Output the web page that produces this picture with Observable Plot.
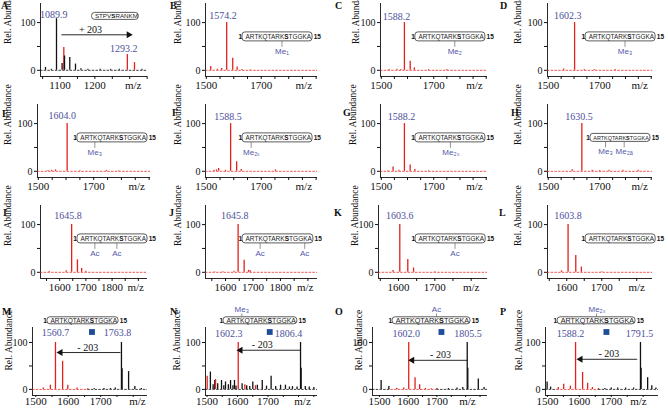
<!DOCTYPE html>
<html><head><meta charset="utf-8">
<script src="https://cdn.jsdelivr.net/npm/d3@7"></script>
<script src="https://cdn.jsdelivr.net/npm/@observablehq/plot@0.6"></script>
<style>
body{margin:0;background:#fff;}
#fig{position:relative;width:668px;height:410px;overflow:hidden;background:#fff;}
.cell{position:absolute;}
.letter{position:absolute;font:bold 10px "Liberation Serif","Times New Roman",serif;line-height:10px;color:#111;}
</style></head><body><div id="fig"></div>
<script>
// ---------- data ----------
const peptideH3 = ["A","R","T","K","Q","T","A","R","K","S","T","G","G","K","A"];
const peptideA  = ["S","T","P","V","S","R","A","N","K","M"];

// [m/z, relative abundance]
const redA   = [[1110.9,48],[1293.2,33],[1313.7,16]];
const blackA = [[1058.3,6],[1075,2],[1089.9,108],[1106,14],[1112.9,30],[1128,27],[1144.4,13],[1160,3],[1180,2],[1215,2],[1245,2],[1270,2],[1335,2]];
const redB = [[1516,8],[1540,2],[1556,4],[1574.2,100],[1596.2,25],[1612.2,7],[1630,1.5],[1660,1]];
const redC = [[1530,1.5],[1560,2],[1575,1.5],[1588.2,100],[1610.2,19],[1626.2,5],[1680,1.5],[1750,1.5]];
const redD = [[1560,2.5],[1602.3,100],[1640,1.5],[1680,1.5],[1760,1.5]];
const redE = [[1535,1.5],[1548,2],[1562,3],[1604.0,100],[1650,1],[1746,2],[1790,1]];
const redF = [[1528,2],[1537,3],[1545,6],[1570,2],[1588.5,100],[1610.5,20],[1627,4],[1752,3]];
const redG = [[1525,1],[1545,9],[1567,2],[1588.2,100],[1610.2,13],[1628,4],[1680,1]];
const redH = [[1593,3],[1630.5,100],[1671,2],[1700,1.5],[1736,2],[1790,2],[1850,2]];
const redI = [[1560,1.5],[1625,3],[1645.8,100],[1667.8,26],[1683.8,8],[1700,2]];
const redJ = [[1560,1],[1590,1],[1631,2],[1645.8,100],[1667.8,25],[1683.8,4],[1690,3]];
const redK = [[1585,4],[1603.6,100],[1625.6,27],[1641.6,9],[1700,1]];
const redL = [[1585,3],[1603.8,100],[1625.8,35],[1641.8,11],[1700,1]];
const redM = [[1523,3],[1545,9],[1560.7,100],[1582.7,60],[1598.7,9],[1627,3],[1660,1.5]];
const blackM = [[1680,1.5],[1710,2],[1730,2],[1745,3],[1763.8,100],[1765.8,44],[1785.8,38],[1805,6],[1825,2]];
const redN = [[1500.5,28],[1528,21],[1602.3,100],[1624,10],[1659,8]];
const blackN = [[1511,37],[1520,10],[1525.5,19],[1535,12],[1547.5,19],[1555,8],[1560.6,16],[1570,10],[1577,19],[1585,8],[1590,19],[1595,7],[1615,12],[1630,8],[1640,6],[1650,16],[1665,9],[1681,19],[1695,7],[1710,28],[1725,6],[1741,9],[1757,9],[1770,5],[1780,6],[1795,5],[1806.4,100],[1808.4,45],[1822,6],[1835,5],[1850,4]];
const redO = [[1560,2],[1585,3],[1602.0,100],[1624,25],[1640,10],[1660,2],[1680,1.5]];
const blackO = [[1506,19],[1533,6],[1560,2],[1700,1.5],[1740,2],[1770,3],[1790,4],[1805.5,100],[1807.5,45],[1844,22],[1864,4]];
const redP = [[1534,4],[1551,11],[1572,7],[1588.2,100],[1610.2,36],[1626,13],[1641,4],[1660,2]];
const blackP = [[1499,16],[1510,5],[1680,2],[1700,3],[1720,3],[1745,3],[1770,3],[1791.5,100],[1793.5,45],[1814,25],[1827,8],[1840,3]];

// labelled masses
const massA=[1089.9,1293.2], massB=[1574.2], massC=[1588.2], massD=[1602.3], massE=[1604.0], massF=[1588.5],
      massG=[1588.2], massH=[1630.5], massI=[1645.8], massJ=[1645.8], massK=[1603.6], massL=[1603.8],
      massM=[1560.7,1763.8], massN=[1602.3,1806.4], massO=[1602.0,1805.5], massP=[1588.2,1791.5];

// modifications: [residue index, label]
const modsB=[[8,"Me₁"]], modsC=[[8,"Me₂"]], modsD=[[8,"Me₃"]], modsE=[[3,"Me₃"]], modsF=[[1,"Me₂ₛ"]],
      modsG=[[7,"Me₂ₛ"]], modsH=[[3,"Me₃"],[8,"Me₂ₐ"]], modsI=[[3,"Ac"],[8,"Ac"]], modsJ=[[3,"Ac"],[13,"Ac"]],
      modsK=[[8,"Ac"]], modsL=[], modsN=[[3,"Me₃"]], modsO=[[8,"Ac"]], modsP=[[7,"Me₂ₛ"]];

// ---------- styling / layout ----------
const RED="#e4211c", INK="#111111", MASS="#4d4f9c", MOD="#5558aa", SQ="#1f4e99";
const SERIF="'Liberation Serif','Times New Roman',serif", SANS="'Liberation Sans',Arial,sans-serif";
const colL=[0,165,330,495], colW=[165,165,165,173];
const rowT=[0,101,202,300], rowH=[101,101,98,110];
const tB = d3.range(1500,1901,50), tIJ = d3.range(1550,1901,50), tKL = d3.range(1550,1801,50), t4 = d3.range(1500,1851,50);
const L3=[1500,1700], L4=[1500,1600,1700];

const panels = [
 {id:"A",col:0,row:0,ml:40,mr:18,lx:7, letter:[1,9],  xd:[1044,1351],ticks:d3.range(1050,1351,50),labeled:[1100,1200],mzAt:1310,
  red:redA,black:blackA,blackTop:true,baseRed:[],baseBlack:[[1044,1351]],mass:massA,massPos:[[1082,117],[1283,45]],
  pep:{seq:peptideA,bold:4,x1:1192,x2:1326,y:113,hpx:7,ends:false},mods:[],
  arrow:{x1:1104,x2:1297,y:74.4,t:"+ 203",tx:1187.5,ty:85}},
 {id:"B",col:1,row:0,ml:40,mr:13,lx:12,letter:[170,9],xd:[1497,1905],ticks:tB,labeled:L3,mzAt:1855,
  red:redB,black:[],baseRed:[[1497,1905]],baseBlack:[],mass:massB,massPos:[[1561,115]],
  pep:{seq:peptideH3,bold:9,x1:1632,x2:1887,y:70,hpx:9,ends:true},mods:modsB},
 {id:"C",col:2,row:0,ml:50,mr:8,lx:25,letter:[335,9],xd:[1497,1905],ticks:tB,labeled:L3,mzAt:1855,
  red:redC,black:[],baseRed:[[1497,1905]],baseBlack:[],mass:massC,massPos:[[1558,113]],
  pep:{seq:peptideH3,bold:9,x1:1630,x2:1897,y:70,hpx:9,ends:true},mods:modsC},
 {id:"D",col:3,row:0,ml:52,mr:16,lx:22,letter:[500,9],xd:[1497,1905],ticks:tB,labeled:L3,mzAt:1855,
  red:redD,black:[],baseRed:[[1497,1905]],baseBlack:[],mass:massD,massPos:[[1576,115]],
  pep:{seq:peptideH3,bold:9,x1:1645,x2:1917,y:70,hpx:9,ends:true},mods:modsD},
 {id:"E",col:0,row:1,ml:37,mr:15,lx:7,letter:[2,117],xd:[1497,1905],ticks:tB,labeled:L3,mzAt:1855,
  red:redE,black:[],baseRed:[[1497,1905]],baseBlack:[],mass:massE,massPos:[[1586,116]],
  pep:{seq:peptideH3,bold:9,x1:1641,x2:1894,y:70,hpx:9,ends:true},mods:modsE},
 {id:"F",col:1,row:1,ml:40,mr:13,lx:12,letter:[172,116],xd:[1497,1905],ticks:tB,labeled:L3,mzAt:1855,
  red:redF,black:[],baseRed:[[1497,1905]],baseBlack:[],mass:massF,massPos:[[1579,115]],
  pep:{seq:peptideH3,bold:9,x1:1632,x2:1887,y:70,hpx:9,ends:true},mods:modsF},
 {id:"G",col:2,row:1,ml:50,mr:8,lx:22,letter:[343,116],xd:[1497,1905],ticks:tB,labeled:L3,mzAt:1855,
  red:redG,black:[],baseRed:[[1497,1905]],baseBlack:[],mass:massG,massPos:[[1577,115]],
  pep:{seq:peptideH3,bold:9,x1:1630,x2:1897,y:70,hpx:9,ends:true},mods:modsG},
 {id:"H",col:3,row:1,ml:52,mr:16,lx:22,letter:[511,116],xd:[1497,1905],ticks:tB,labeled:L3,mzAt:1855,
  red:redH,black:[],baseRed:[[1497,1905]],baseBlack:[],mass:massH,massPos:[[1619,115]],
  pep:{seq:peptideH3,bold:9,x1:1664,x2:1897,y:70,hpx:8,ends:true},mods:modsH},
 {id:"I",col:0,row:2,ml:40,mr:18,lx:7,letter:[3,216],xd:[1527,1935],ticks:tIJ,labeled:[1600,1700,1800],mzAt:1890,
  red:redI,black:[],baseRed:[[1527,1935]],baseBlack:[],mass:massI,massPos:[[1632,118]],
  pep:{seq:peptideH3,bold:9,x1:1668,x2:1935,y:70,hpx:9,ends:true},mods:modsI},
 {id:"J",col:1,row:2,ml:40,mr:13,lx:12,letter:[169,216],xd:[1527,1935],ticks:tIJ,labeled:[1600,1700,1800],mzAt:1890,
  red:redJ,black:[],baseRed:[[1527,1935]],baseBlack:[],mass:massJ,massPos:[[1634,118]],
  pep:{seq:peptideH3,bold:9,x1:1662,x2:1920,y:70,hpx:9,ends:true},mods:modsJ},
 {id:"K",col:2,row:2,ml:48,mr:8,lx:24,letter:[334,216],xd:[1545,1845],ticks:tKL,labeled:[1600,1700],mzAt:1800,
  red:redK,black:[],baseRed:[[1545,1845]],baseBlack:[],mass:massK,massPos:[[1603.6,118]],
  pep:{seq:peptideH3,bold:9,x1:1647,x2:1840,y:70,hpx:9,ends:true},mods:modsK},
 {id:"L",col:3,row:2,ml:52,mr:16,lx:22,letter:[499,216],xd:[1545,1845],ticks:tKL,labeled:[1600,1700],mzAt:1800,
  red:redL,black:[],baseRed:[[1545,1845]],baseBlack:[],mass:massL,massPos:[[1603.8,118]],
  pep:{seq:peptideH3,bold:9,x1:1654,x2:1854,y:70,hpx:9,ends:true},mods:modsL},
 {id:"M",col:0,row:3,ml:32,mr:18,lx:8.5,letter:[2,315],xd:[1490,1844],ticks:t4.filter(t=>t<=1844),labeled:L4,mzAt:1813,
  red:redM,black:blackM,baseRed:[[1490,1660]],baseBlack:[[1660,1844]],mass:massM,massPos:[[1560.7,121],[1751.5,121]],
  pep:{seq:peptideH3,bold:9,x1:1536,x2:1755,y:146.3,hpx:7,ends:true},mods:[],square:true,
  arrow:{x1:1760.8,x2:1576.2,y:78.6,t:"- 203",tx:1660,ty:88.4}},
 {id:"N",col:1,row:3,ml:40,mr:13,lx:11.5,letter:[170,315],xd:[1495,1862],ticks:t4,labeled:L4,mzAt:1813,
  red:redN,black:blackN,baseRed:[],baseBlack:[[1495,1862]],mass:massN,massPos:[[1571.5,119],[1767,119]],
  pep:{seq:peptideH3,bold:9,x1:1554,x2:1796,y:146.3,hpx:7,ends:true},mods:modsN,square:true,
  arrow:{x1:1806.3,x2:1609.7,y:83.5,t:"- 203",tx:1681,ty:95.7}},
 {id:"O",col:2,row:3,ml:42,mr:8,lx:28.5,letter:[335,315],xd:[1476,1876],ticks:t4,labeled:L4,mzAt:1806,
  red:redO,black:blackO,baseRed:[[1540,1700]],baseBlack:[[1476,1540],[1700,1876]],mass:massO,massPos:[[1593,119],[1808,119]],
  pep:{seq:peptideH3,bold:9,x1:1546,x2:1817,y:146.3,hpx:7,ends:true},mods:modsO,square:true,
  arrow:{x1:1805.4,x2:1614,y:62,t:"- 203",tx:1712.5,ty:72.8}},
 {id:"P",col:3,row:3,ml:50,mr:10,lx:23.5,letter:[500,315],xd:[1494,1848],ticks:t4.filter(t=>t<=1848),labeled:L4,mzAt:1785,
  red:redP,black:blackP,baseRed:[[1530,1660]],baseBlack:[[1494,1530],[1660,1848]],mass:massP,massPos:[[1572.5,119],[1788.4,119]],
  pep:{seq:peptideH3,bold:9,x1:1532,x2:1776,y:146.3,hpx:7,ends:true},mods:modsP,square:true,
  arrow:{x1:1781.3,x2:1603.6,y:64.2,t:"- 203",tx:1692.3,ty:75}}
];

function buildPanel(p){
  const W=colW[p.col], H=rowH[p.row], row4 = p.row===3;
  const mt = row4?27:3, bottom = row4?95:76, mb = H-bottom;
  const yd = row4?[-13,132]:[-13,140];
  const plotW = W-p.ml-p.mr;
  const kx = (p.xd[1]-p.xd[0])/plotW, ky = (yd[1]-yd[0])/(bottom-mt);
  const marks = [];
  // axis lines
  marks.push(Plot.ruleX([p.xd[0]],{y1:yd[0],y2:yd[1],stroke:INK,strokeWidth:0.9}));
  marks.push(Plot.ruleY([yd[0]],{x1:p.xd[0],x2:p.xd[1],stroke:INK,strokeWidth:0.9}));
  marks.push(Plot.axisY([0,50,100],{tickSize:3,tickPadding:2,tickFormat:d=>d===50?"":String(d),label:null,fontSize:10}));
  marks.push(Plot.axisX(p.ticks,{tickSize:row4?2:3,tickPadding:row4?0:2,tickFormat:d=>p.labeled.includes(d)?String(d):"",label:null,fontSize:11}));
  marks.push(Plot.axisX([p.mzAt],{tickSize:0,tickPadding:row4?2:5,tickFormat:()=>"m/z",label:null,fontSize:11}));
  marks.push(Plot.text(["Rel. Abundance"],{text:d=>d,frameAnchor:"left",rotate:-90,dx:p.lx-p.ml,dy:row4?9:4,fontSize:9.5,fontFamily:SERIF,fill:INK}));
  // baselines
  marks.push(Plot.ruleY(p.baseRed,{y:0,x1:d=>d[0],x2:d=>d[1],stroke:RED,strokeWidth:1,strokeDasharray:"2.5,1.2",strokeOpacity:0.75}));
  marks.push(Plot.ruleY(p.baseBlack,{y:0,x1:d=>d[0],x2:d=>d[1],stroke:INK,strokeWidth:1,strokeDasharray:"2.5,1.2",strokeOpacity:0.8}));
  const redMk = Plot.ruleX(p.red,{x:d=>d[0],y1:0,y2:d=>d[1],stroke:RED,strokeWidth:1.3});
  const blkMk = Plot.ruleX(p.black,{x:d=>d[0],y1:0,y2:d=>d[1],stroke:INK,strokeWidth:1.3});
  if (p.blackTop) marks.push(redMk, blkMk); else marks.push(blkMk, redMk);
  // mass labels
  marks.push(Plot.text(p.mass.map((m,i)=>({m,x:p.massPos[i][0],y:p.massPos[i][1]})),
    {x:"x",y:"y",text:d=>d.m.toFixed(1),fill:MASS,fontSize:10,fontFamily:SERIF}));
  // peptide box
  const pp = p.pep;
  if (pp){
    const hd = pp.hpx/2*ky, padD = 2*kx, n = pp.seq.length;
    const innerL = pp.x1+padD, cw = (pp.x2-pp.x1-2*padD)/n;
    const resX = i => innerL+(i+0.5)*cw;
    const boxPx = (pp.x2-pp.x1)/kx;
    const fs = (boxPx-4)/(n*0.685);
    marks.push(Plot.rect([pp],{x1:"x1",x2:"x2",y1:d=>d.y-hd,y2:d=>d.y+hd,rx:3,ry:3,fill:"white",stroke:"#333",strokeWidth:0.8}));
    const b = pp.bold;
    marks.push(Plot.text([pp],{x:()=>innerL+b*cw,y:"y",text:d=>d.seq.slice(0,b).join(""),textAnchor:"end",fontSize:fs,fontFamily:SANS,fill:"#222"}));
    marks.push(Plot.text([pp],{x:()=>resX(b),y:"y",text:d=>d.seq[b],textAnchor:"middle",fontWeight:"bold",fontSize:fs,fontFamily:SANS,fill:"#111"}));
    marks.push(Plot.text([pp],{x:()=>innerL+(b+1)*cw,y:"y",text:d=>d.seq.slice(b+1).join(""),textAnchor:"start",fontSize:fs,fontFamily:SANS,fill:"#222"}));
    if (pp.ends){
      marks.push(Plot.text([pp],{x:"x1",y:"y",text:()=>"1",textAnchor:"end",dx:-0.5,fontWeight:"bold",fontSize:6.5,fontFamily:SANS,fill:"#111"}));
      marks.push(Plot.text([pp],{x:"x2",y:"y",text:()=>"15",textAnchor:"start",dx:1.2,fontWeight:"bold",fontSize:6.5,fontFamily:SANS,fill:"#111"}));
    }
    if (p.mods.length){
      const y1 = row4 ? pp.y+hd : pp.y-hd;
      const y2 = row4 ? pp.y+hd+3.3*ky : pp.y-hd-6*ky;
      const yl = row4 ? pp.y+hd+7.5*ky : pp.y-hd-10*ky;
      marks.push(Plot.ruleX(p.mods,{x:d=>resX(d[0]),y1:y1,y2:y2,stroke:"#666",strokeWidth:0.7}));
      marks.push(Plot.text(p.mods,{x:d=>resX(d[0]),y:yl,text:d=>d[1],fill:MOD,fontSize:8,fontFamily:SANS}));
    }
    if (p.square){
      marks.push(Plot.dot([9],{x:i=>resX(i),y:pp.y-hd-7.7*ky,symbol:"square",r:3.3,fill:SQ,stroke:"none"}));
    }
  }
  if (p.arrow){
    const a = p.arrow;
    marks.push(Plot.link([a],{x1:"x1",x2:"x2",y1:"y",y2:"y",stroke:INK,strokeWidth:0.9}));
    marks.push(Plot.dot([a],{x:"x2",y:"y",symbol:"triangle",rotate:a.x2>a.x1?90:-90,r:2.6,fill:INK,stroke:"none"}));
    marks.push(Plot.text([a],{x:"tx",y:"ty",text:"t",fontSize:10,fontFamily:SERIF,fill:INK}));
  }
  return Plot.plot({
    width:W, height:H, marginLeft:p.ml, marginRight:p.mr, marginTop:mt, marginBottom:mb,
    x:{domain:p.xd}, y:{domain:yd},
    style:{fontFamily:SERIF,fontSize:"10px",color:INK,background:"transparent",overflow:"visible"},
    marks
  });
}

const fig = document.getElementById("fig");
for (const p of panels){
  const div = document.createElement("div");
  div.className="cell";
  div.style.left=colL[p.col]+"px"; div.style.top=rowT[p.row]+"px"; div.style.width=colW[p.col]+"px";
  div.appendChild(buildPanel(p));
  fig.appendChild(div);
  const lt = document.createElement("div");
  lt.className="letter"; lt.textContent=p.id;
  lt.style.left=p.letter[0]+"px"; lt.style.top=(p.letter[1]-8.4)+"px";
  fig.appendChild(lt);
}
</script></body></html>
